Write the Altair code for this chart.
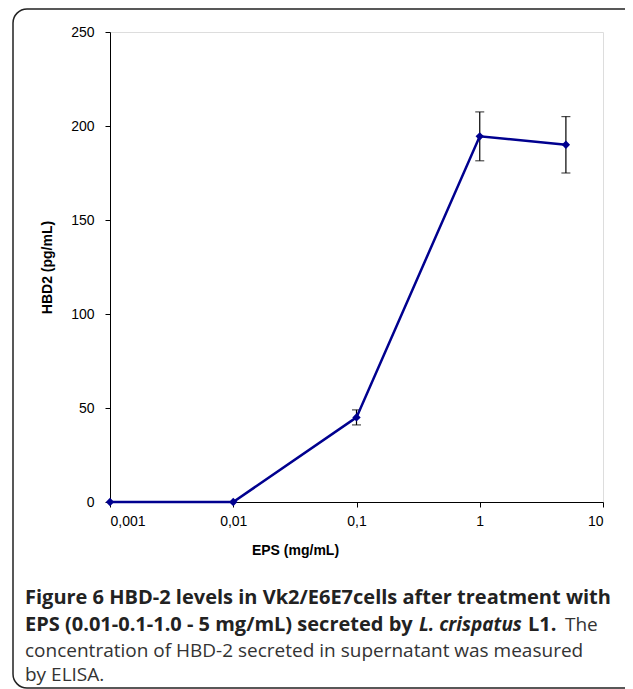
import altair as alt
import pandas as pd

eps = [0.001, 0.01, 0.1, 1, 5]
hbd2 = [0, 0, 45, 194.5, 190]
err = [0, 0, 4, 13, 15]
x_ticks = [0.001, 0.01, 0.1, 1, 10]
y_ticks = [0, 50, 100, 150, 200, 250]

df = pd.DataFrame({"eps": eps, "hbd2": hbd2, "err": err})
df["lo"] = df["hbd2"] - df["err"]
df["hi"] = df["hbd2"] + df["err"]
df_err = df[df["err"] > 0]

caption_lines = [
    [("Figure 6 HBD-2 levels in Vk2/E6E7cells after treatment with", "bold", "normal", -85)],
    [("EPS (0.01-0.1-1.0 - 5 mg/mL) secreted by", "bold", "normal", -85),
     ("L. crispatus", "bold", "italic", 309),
     ("L1.", "bold", "normal", 418),
     ("The", "normal", "normal", 455)],
    [("concentration of HBD-2 secreted in supernatant was measured", "normal", "normal", -85)],
    [("by ELISA.", "normal", "normal", -85)],
]
caption_y = [566, 593, 619, 643]

W, H = 493, 470

xs = alt.Scale(type="log", domain=[0.001, 10], nice=False)
ys = alt.Scale(domain=[0, 250], nice=False)

x = alt.X("eps:Q", scale=xs,
          axis=alt.Axis(values=x_ticks, labelExpr="replace(toString(datum.value), '.', ',')",
                        title="EPS (mg/mL)", grid=False, tickColor="black", domainColor="black",
                        tickSize=5, labelPadding=7, labelFontSize=14, labelColor="black",
                        labelFont="Liberation Sans", titleFont="Liberation Sans", titleFontSize=14,
                        titleFontWeight="bold", titlePadding=15, titleColor="black",
                        titleX=185))
y = alt.Y("hbd2:Q", scale=ys,
          axis=alt.Axis(values=y_ticks, title="HBD2 (pg/mL)", grid=False,
                        tickColor="black", domainColor="black", tickSize=5, labelPadding=11,
                        labelFontSize=14, labelColor="black", labelFont="Liberation Sans",
                        titleFont="Liberation Sans", titleFontSize=14, titleFontWeight="bold",
                        titlePadding=16, titleColor="black"))

base = alt.Chart(df)
line = base.mark_line(color="#00008f", strokeWidth=2.5).encode(x=x, y=y)
pts = base.mark_point(shape="diamond", filled=True, color="#00008f", size=70, opacity=1).encode(x=x, y=y)
rules = alt.Chart(df_err).mark_rule(color="black", strokeWidth=1.2).encode(
    x=alt.X("eps:Q", scale=xs), y=alt.Y("lo:Q", scale=ys), y2="hi:Q")
caps_lo = alt.Chart(df_err).mark_tick(color="black", thickness=1.2, size=9, orient="horizontal").encode(
    x=alt.X("eps:Q", scale=xs), y=alt.Y("lo:Q", scale=ys))
caps_hi = alt.Chart(df_err).mark_tick(color="black", thickness=1.2, size=9, orient="horizontal").encode(
    x=alt.X("eps:Q", scale=xs), y=alt.Y("hi:Q", scale=ys))

border = alt.Chart(pd.DataFrame({"a": [0]})).mark_rect(
    filled=False, stroke="#222222", strokeWidth=1.5, cornerRadius=14).encode(
    x=alt.value(-97), x2=alt.value(540), y=alt.value(-23), y2=alt.value(656))

texts = []
for yy, segs in zip(caption_y, caption_lines):
    for (t, fw, fs, xx) in segs:
        texts.append(alt.Chart(pd.DataFrame({"t": [t]})).mark_text(
            align="left", baseline="middle", font="Open Sans",
            fontSize=20 if (fw == "bold" and fs == "normal") else 19,
            fontWeight=fw, fontStyle=fs, color="#222222" if fw == "bold" else "#333333").encode(
            text="t:N", x=alt.value(xx), y=alt.value(yy)))

chart = alt.layer(border, rules, caps_lo, caps_hi, line, pts, *texts).properties(
    width=W, height=H,
    autosize=alt.AutoSizeParams(type="none"),
    padding={"left": 102, "top": 24, "right": 22, "bottom": 187},
).configure_view(stroke="#999999", strokeWidth=1.2).configure(background="white")

chart.save("out.html", embed_options={"renderer": "svg", "actions": False})
